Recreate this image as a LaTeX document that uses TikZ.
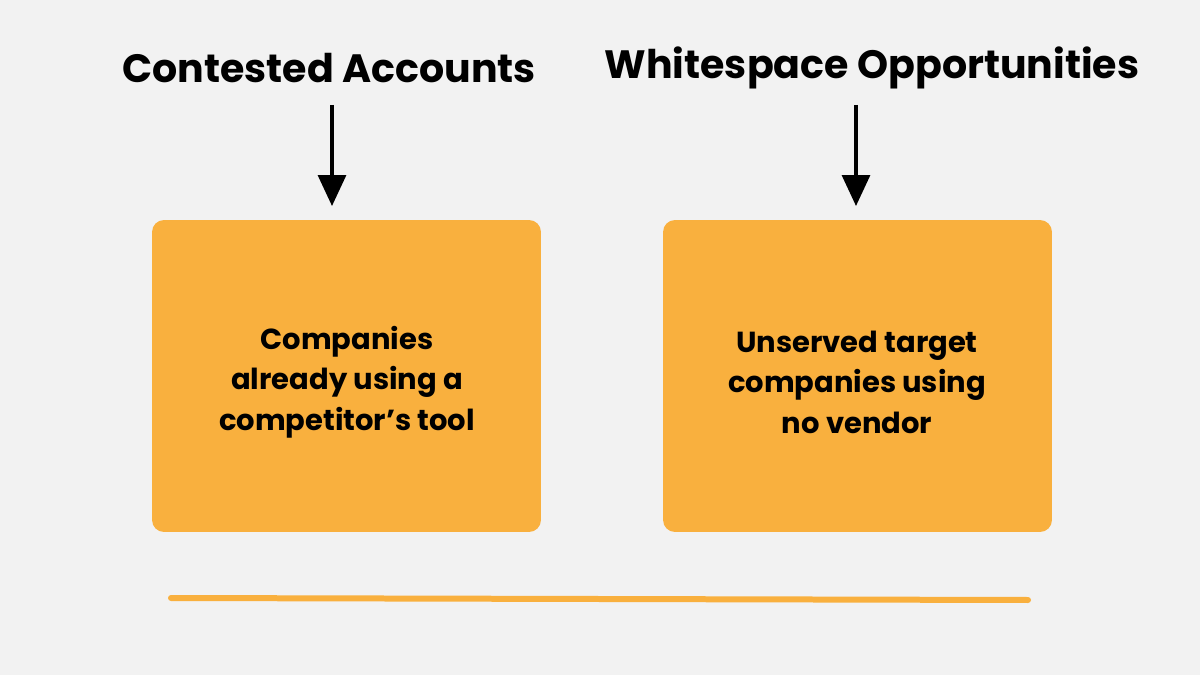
\documentclass[tikz,border=0pt]{standalone}
\usepackage{fontspec}
\setmainfont{Poppins}
\usetikzlibrary{arrows.meta}
\definecolor{bg}{HTML}{F2F2F2}
\definecolor{box}{HTML}{F9B03E}
\begin{document}
\begin{tikzpicture}[x=0.02cm,y=-0.02cm,
  title/.style={font=\fontsize{22.5}{27}\selectfont\bfseries, anchor=center},
  card/.style={fill=box, rounded corners=0.24cm, minimum width=7.78cm, minimum height=6.24cm, align=center},
  cardtext/.style={align=center, font=\fontsize{16.5}{23}\selectfont\bfseries},
  arr/.style={line width=0.065cm, -{Triangle[length=0.62cm,width=0.56cm]}}]
\fill[bg] (0,0) rectangle (1200,675);
\useasboundingbox (0,0) rectangle (1200,675);
\node[title] (t1) at (329,68) {Contested Accounts};
\node[title] (t2) at (872,68) {Whitespace Opportunities};
\node[card] (b1) at (346.5,376) {};
\node[card] (b2) at (857.5,376) {};
\node[cardtext] (x1) at (347,382) {Companies\\already using a\\competitor’s tool};
\node[cardtext] (x2) at (857,382) {Unserved target\\companies using\\no vendor};
\coordinate (a1s) at (332,105); \coordinate (a1e) at (332,206);
\coordinate (a2s) at (856,105); \coordinate (a2e) at (856,206);
\draw[arr] (a1s) -- (a1e);
\draw[arr] (a2s) -- (a2e);
\coordinate (l1) at (171,598); \coordinate (l2) at (1028,600);
\draw[box, line width=0.12cm, line cap=round] (l1) -- (l2);
\end{tikzpicture}
\end{document}
